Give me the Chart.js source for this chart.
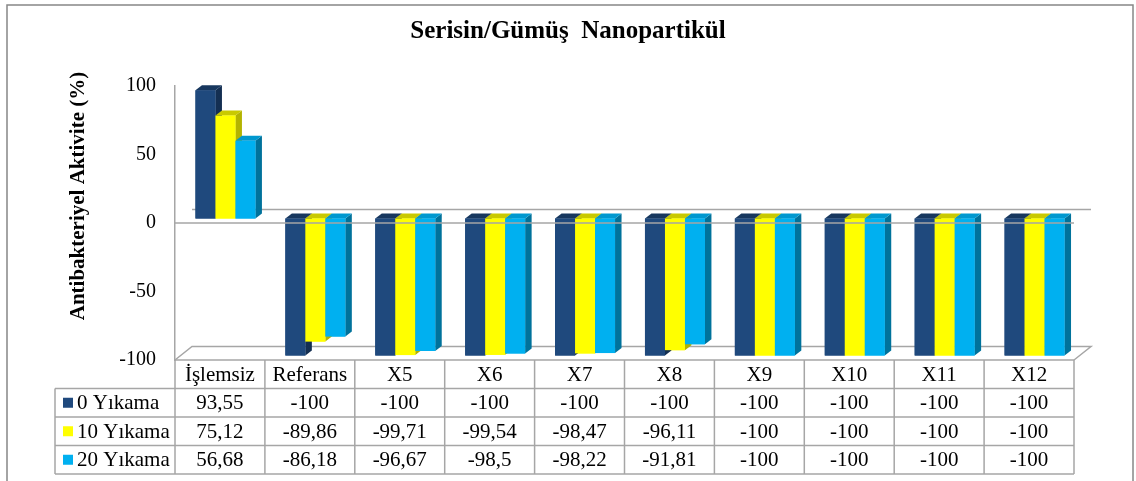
<!DOCTYPE html>
<html>
<head>
<meta charset="utf-8">
<script src="https://cdn.jsdelivr.net/npm/chart.js@4.4.0/dist/chart.umd.min.js"></script>
<style>
  html, body { margin: 0; padding: 0; background: #fff; }
  #wrap { width: 1136px; height: 481px; }
</style>
</head>
<body>
<div id="wrap"><canvas id="myChart" width="1136" height="481"></canvas></div>
<script>
const categories = ['İşlemsiz', 'Referans', 'X5', 'X6', 'X7', 'X8', 'X9', 'X10', 'X11', 'X12'];
const seriesNames = ['0 Yıkama', '10 Yıkama', '20 Yıkama'];
const wash0 = [93.55, -100, -100, -100, -100, -100, -100, -100, -100, -100];
const wash10 = [75.12, -89.86, -99.71, -99.54, -98.47, -96.11, -100, -100, -100, -100];
const wash20 = [56.68, -86.18, -96.67, -98.5, -98.22, -91.81, -100, -100, -100, -100];
const yMin = -100, yMax = 100, yStep = 50;

const FONT = "'Liberation Serif', 'Times New Roman', serif";
const frontColors = ['#1F497D', '#FFFF00', '#00B0F0'];
const topColors = ['#17375E', '#C9C900', '#0098CF'];
const sideColors = ['#142F52', '#B3B300', '#00729B'];
const gridGray = '#A6A6A6';

// 3d look
const SHIFT_X = 5.5, SHIFT_Y = -4.5;   // bars sit a bit into the plot
const BAR_DX = 6.5, BAR_DY = 5;        // bar depth
const WALL_DX = 17, WALL_DY = 13.5;    // back wall offset

const fmt = v => String(v).replace('.', ',');

const threeD = {
  id: 'threeD',
  beforeDatasetsDraw(chart) {
    const { ctx, chartArea: a, scales } = chart;
    const y0 = scales.y.getPixelForValue(0);
    ctx.save();
    ctx.strokeStyle = gridGray;
    ctx.lineWidth = 1.5;
    // back zero line
    ctx.beginPath();
    ctx.moveTo(a.left + WALL_DX, y0 - WALL_DY);
    ctx.lineTo(a.right + WALL_DX, y0 - WALL_DY);
    ctx.stroke();
    // floor
    ctx.beginPath();
    ctx.moveTo(a.left, a.bottom);
    ctx.lineTo(a.left + WALL_DX, a.bottom - WALL_DY);
    ctx.lineTo(a.right + WALL_DX, a.bottom - WALL_DY);
    ctx.lineTo(a.right, a.bottom);
    ctx.stroke();
    ctx.restore();
    ctx.save();
    ctx.translate(SHIFT_X, SHIFT_Y);
  },
  afterDatasetsDraw(chart) {
    const { ctx, chartArea: a, scales } = chart;
    for (let d = 0; d < chart.data.datasets.length; d++) {
      const meta = chart.getDatasetMeta(d);
      meta.data.forEach(el => {
        const p = el.getProps(['x', 'y', 'base', 'width'], true);
        const left = p.x - p.width / 2, right = p.x + p.width / 2;
        const top = Math.min(p.y, p.base), bottom = Math.max(p.y, p.base);
        ctx.fillStyle = sideColors[d];
        ctx.beginPath();
        ctx.moveTo(right, top);
        ctx.lineTo(right + BAR_DX, top - BAR_DY);
        ctx.lineTo(right + BAR_DX, bottom - BAR_DY);
        ctx.lineTo(right, bottom);
        ctx.closePath();
        ctx.fill();
        ctx.fillStyle = topColors[d];
        ctx.beginPath();
        ctx.moveTo(left, top);
        ctx.lineTo(left + BAR_DX, top - BAR_DY);
        ctx.lineTo(right + BAR_DX, top - BAR_DY);
        ctx.lineTo(right, top);
        ctx.closePath();
        ctx.fill();
        ctx.fillStyle = frontColors[d];
        ctx.fillRect(left, top, p.width, bottom - top);
      });
    }
    ctx.restore();
    // front zero line over the bars
    const y0 = scales.y.getPixelForValue(0);
    ctx.save();
    ctx.strokeStyle = gridGray;
    ctx.lineWidth = 1.5;
    ctx.beginPath();
    ctx.moveTo(a.left, y0);
    ctx.lineTo(a.right, y0);
    ctx.stroke();
    ctx.restore();
  }
};

const dataTable = {
  id: 'dataTable',
  afterDraw(chart) {
    const { ctx, chartArea: a } = chart;
    const colW = (a.right - a.left) / categories.length;
    const rowH = 28.5;
    const top = a.bottom;
    const legendLeft = 55;
    const rows = [wash0, wash10, wash20];
    const bottom = top + rowH * (rows.length + 1);
    ctx.save();
    ctx.strokeStyle = gridGray;
    ctx.lineWidth = 1.5;
    ctx.beginPath();
    ctx.moveTo(a.left, top);
    ctx.lineTo(a.right, top);
    for (let r = 1; r <= rows.length + 1; r++) {
      ctx.moveTo(legendLeft, top + r * rowH);
      ctx.lineTo(a.right, top + r * rowH);
    }
    for (let c = 0; c <= categories.length; c++) {
      const x = a.left + c * colW;
      ctx.moveTo(x, top);
      ctx.lineTo(x, bottom);
    }
    ctx.moveTo(legendLeft, top + rowH);
    ctx.lineTo(legendLeft, bottom);
    ctx.stroke();

    ctx.fillStyle = '#000';
    ctx.font = '21px ' + FONT;
    ctx.textBaseline = 'middle';
    ctx.textAlign = 'center';
    categories.forEach((c, i) => {
      ctx.fillText(c, chart.scales.x.getPixelForValue(i), top + rowH / 2 + 1);
    });
    rows.forEach((vals, r) => {
      const cy = top + rowH * (r + 1.5) + 1;
      ctx.textAlign = 'center';
      ctx.fillStyle = '#000';
      vals.forEach((v, i) => {
        ctx.fillText(fmt(v), chart.scales.x.getPixelForValue(i), cy);
      });
      ctx.fillStyle = frontColors[r];
      ctx.fillRect(legendLeft + 8, cy - 6, 10, 10);
      ctx.fillStyle = '#000';
      ctx.textAlign = 'left';
      ctx.fillText(seriesNames[r], legendLeft + 22, cy);
    });

    // y axis title
    ctx.translate(79, 196);
    ctx.rotate(-Math.PI / 2);
    ctx.font = 'bold 21px ' + FONT;
    ctx.textAlign = 'center';
    ctx.fillText('Antibakteriyel Aktivite (%)', 0, 0);
    ctx.restore();

    // outer frame
    ctx.save();
    ctx.strokeStyle = '#878787';
    ctx.lineWidth = 1.5;
    ctx.strokeRect(7, 5, 1126, 490);
    ctx.restore();
  }
};

new Chart(document.getElementById('myChart'), {
  type: 'bar',
  data: {
    labels: categories,
    datasets: [
      { label: seriesNames[0], data: wash0, backgroundColor: frontColors[0] },
      { label: seriesNames[1], data: wash10, backgroundColor: frontColors[1] },
      { label: seriesNames[2], data: wash20, backgroundColor: frontColors[2] }
    ]
  },
  options: {
    responsive: false,
    animation: false,
    devicePixelRatio: 1,
    datasets: { bar: { categoryPercentage: 0.667, barPercentage: 1, clip: false } },
    layout: { padding: { top: 0, right: 0, bottom: 121, left: 0 } },
    plugins: {
      legend: { display: false },
      tooltip: { enabled: false },
      title: {
        display: true,
        text: 'Serisin/Gümüş  Nanopartikül',
        color: '#000',
        font: { family: FONT, size: 25, weight: 'bold' },
        padding: { top: 17, bottom: 39 }
      }
    },
    scales: {
      x: { display: false },
      y: {
        min: yMin,
        max: yMax,
        ticks: { stepSize: yStep, color: '#000', font: { family: FONT, size: 20 }, padding: 19 },
        grid: { display: false, drawTicks: false },
        border: { display: true, color: gridGray, width: 1.5 },
        afterFit(scale) { scale.width = 175; }
      },
      yRight: {
        position: 'right',
        min: yMin,
        max: yMax,
        ticks: { display: false },
        grid: { display: false, drawTicks: false },
        border: { display: false },
        afterFit(scale) { scale.width = 62; }
      }
    }
  },
  plugins: [threeD, dataTable]
});
</script>
</body>
</html>
